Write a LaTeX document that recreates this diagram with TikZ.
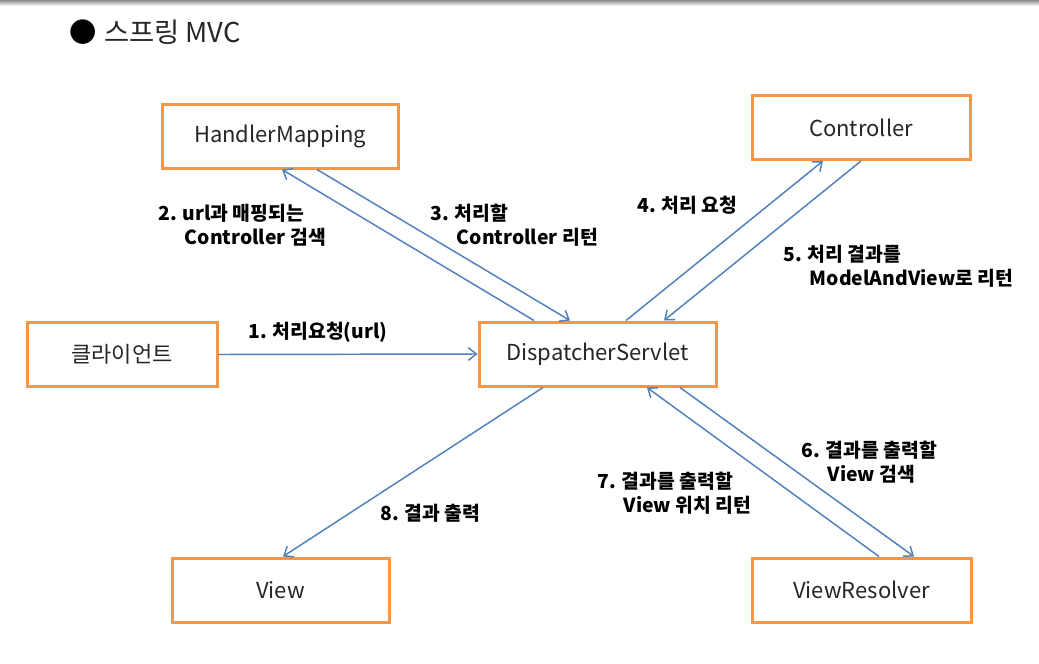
\documentclass[tikz,border=0pt]{standalone}
\usepackage{fontspec}
\setmainfont{Noto Sans CJK KR}
\usetikzlibrary{arrows.meta,calc}
\definecolor{boxorange}{HTML}{F79646}
\definecolor{arrowblue}{HTML}{4F81BD}
\definecolor{boxtext}{HTML}{262626}
\begin{document}
\begin{tikzpicture}[x=0.75pt,y=-0.75pt,
  box/.style={draw=boxorange, line width=2.25pt, fill=white, text=boxtext,
    font=\fontsize{16.5}{20}\selectfont, inner sep=0pt, minimum height=48pt},
  flow/.style={draw=arrowblue, line width=1.1pt, -{Straight Barb[length=6pt,width=9.5pt]}},
  lbl/.style={font=\bfseries\fontsize{14.5}{18}\selectfont, inner sep=0pt, anchor=west, align=left, text=black},
  ttl/.style={font=\fontsize{20.5}{24}\selectfont, inner sep=0pt, anchor=west, text=boxtext}]
\useasboundingbox (0,0) rectangle (1039,664);
\fill[white] (0,0) rectangle (1039,664);
\shade[top color=black!45, bottom color=white] (0,0) rectangle (1039,6);

\node[ttl] (title) at (69,32) {{\color{black}●}\hspace{1pt} 스프링 MVC};

\node[box, minimum width=177pt]   (hm)   at (280,136)   {HandlerMapping};
\node[box, minimum width=163.5pt] (ctl)  at (861,127.5) {Controller};
\node[box, minimum width=142.5pt] (cli)  at (122,354.5) {클라이언트};
\node[box, minimum width=177.75pt](ds)   at (597.5,354) {DispatcherServlet};
\node[box, minimum width=162.75pt](view) at (280.5,590) {View};
\node[box, minimum width=164.25pt](vr)   at (861.5,590) {ViewResolver};

\draw[flow] (cli.east) -- (ds.west);
\draw[flow] ($(ds.north)+(-63.5,0)$) -- ($(hm.south)+(2,0)$);
\draw[flow] ($(hm.south)+(37,0)$) -- ($(ds.north)+(-27.5,0)$);
\draw[flow] ($(ds.north)+(28.5,0)$) -- ($(ctl.south)+(-38,0)$);
\draw[flow] ($(ctl.south)+(0,0)$) -- ($(ds.north)+(66.5,0)$);
\draw[flow] ($(ds.south)+(82.5,0)$) -- ($(vr.north)+(52.5,0)$);
\draw[flow] ($(vr.north)+(17.5,0)$) -- ($(ds.south)+(49.5,0)$);
\draw[flow] ($(ds.south)+(-54.5,0)$) -- ($(view.north)+(2.5,0)$);

\node[lbl] (l1) at (248,332) {1. 처리요청(url)};
\node[lbl] (l2) at (158,225) {2. url과 매핑되는\\\hspace*{20pt}Controller 검색};
\node[lbl] (l3) at (430,225) {3. 처리할\\\hspace*{20pt}Controller 리턴};
\node[lbl] (l4) at (637,205) {4. 처리 요청};
\node[lbl] (l5) at (783,266.5) {5. 처리 결과를\\\hspace*{20pt}ModelAndView로 리턴};
\node[lbl] (l6) at (801,462) {6. 결과를 출력할\\\hspace*{20pt}View 검색};
\node[lbl] (l7) at (597,493.5) {7. 결과를 출력할\\\hspace*{20pt}View 위치 리턴};
\node[lbl] (l8) at (380,513) {8. 결과 출력};
\end{tikzpicture}
\end{document}
